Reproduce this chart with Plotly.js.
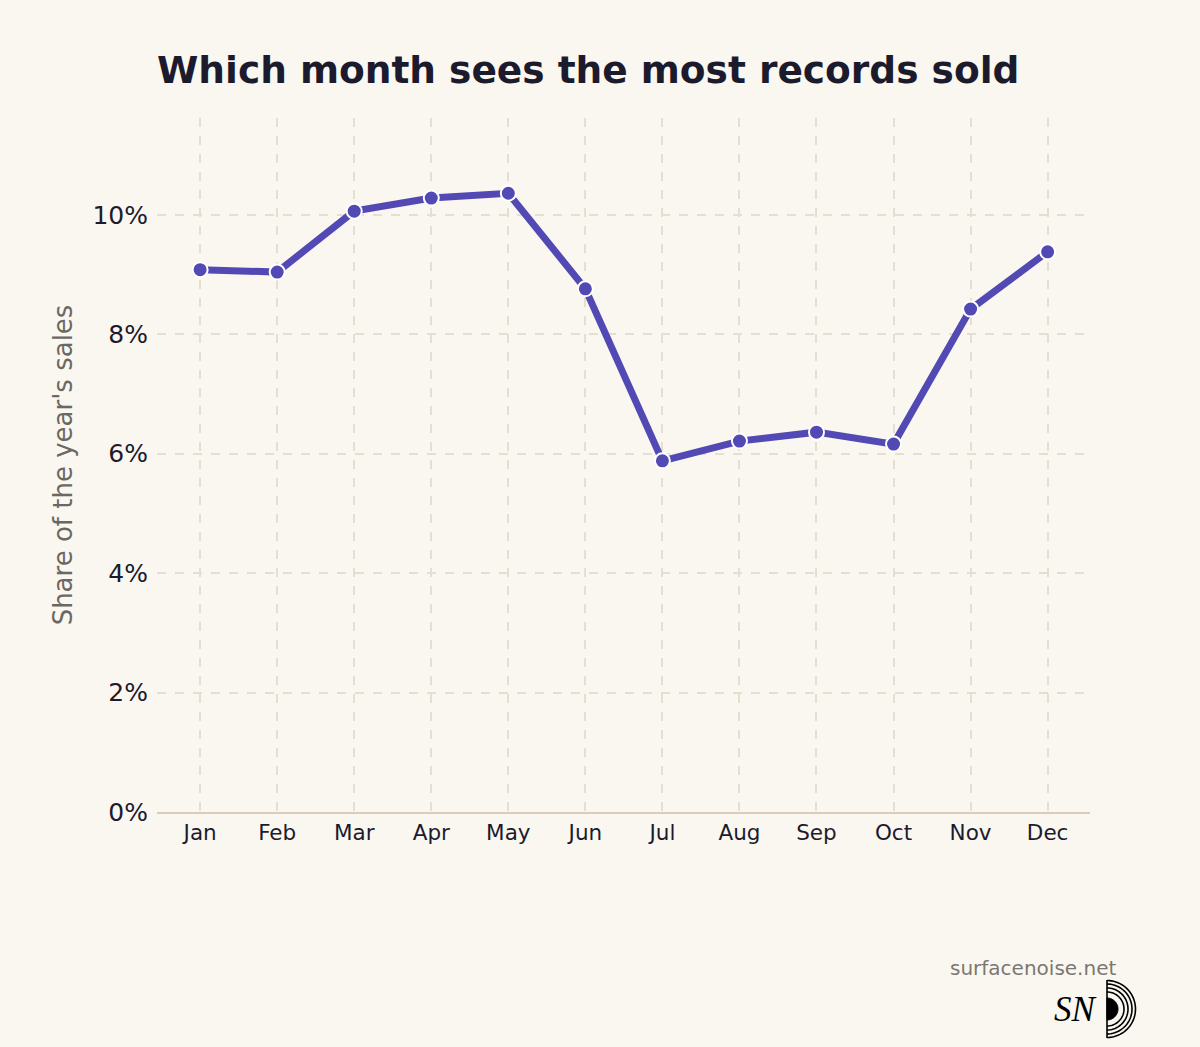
<!DOCTYPE html>
<html>
<head>
<meta charset="utf-8">
<script src="https://cdn.plot.ly/plotly-3.0.1.min.js"></script>
<style>
  html, body { margin: 0; padding: 0; background: #FAF7F0; }
  #chart { width: 1200px; height: 1047px; }
</style>
</head>
<body>
<div id="chart"></div>
<script>
const months = ["Jan", "Feb", "Mar", "Apr", "May", "Jun", "Jul", "Aug", "Sep", "Oct", "Nov", "Dec"];
const shareOfSales = [9.08, 9.04, 10.06, 10.28, 10.36, 8.76, 5.88, 6.21, 6.36, 6.16, 8.42, 9.38];
const yTickValues = [0, 2, 4, 6, 8, 10];
const yTickLabels = ["0%", "2%", "4%", "6%", "8%", "10%"];

const W = 1200, H = 1047;
const M = { l: 157, r: 110, t: 118, b: 235 };
const PW = W - M.l - M.r, PH = H - M.t - M.b;
const px = x => (x - M.l) / PW;
const py = y => (H - M.b - y) / PH;

// logo: half disc and concentric half arcs (decoration)
function halfArcPath(cx, cy, r, filled) {
  let d = "";
  const n = 40;
  for (let i = 0; i <= n; i++) {
    const a = -Math.PI / 2 + Math.PI * i / n;
    const x = px(cx + r * Math.cos(a));
    const y = py(cy + r * Math.sin(a));
    d += (i === 0 ? "M" : "L") + x.toFixed(5) + "," + y.toFixed(5);
  }
  if (filled) d += "Z";
  return d;
}
const logoShapes = [
  { type: "path", xref: "paper", yref: "paper", path: halfArcPath(1107, 1009, 11, true), fillcolor: "#000", line: { color: "#000", width: 1 } },
  { type: "path", xref: "paper", yref: "paper", path: halfArcPath(1107, 1009, 17, false), line: { color: "#000", width: 1.6 } },
  { type: "path", xref: "paper", yref: "paper", path: halfArcPath(1107, 1009, 21, false), line: { color: "#000", width: 1.6 } },
  { type: "path", xref: "paper", yref: "paper", path: halfArcPath(1107, 1009, 25, false), line: { color: "#000", width: 1.6 } },
  { type: "path", xref: "paper", yref: "paper", path: halfArcPath(1107, 1009, 28.5, false), line: { color: "#000", width: 1.6 } },
  { type: "line", xref: "paper", yref: "paper", x0: px(1107), x1: px(1107), y0: py(980), y1: py(1038), line: { color: "#000", width: 1.6 } }
];

const trace = {
  type: "scatter",
  mode: "lines+markers",
  x: months,
  y: shareOfSales,
  line: { color: "#5249B5", width: 7 },
  marker: { color: "#5249B5", size: 15, line: { color: "#FFFFFF", width: 2 } },
  hoverinfo: "x+y"
};

const layout = {
  width: W, height: H,
  paper_bgcolor: "#FAF7F0",
  plot_bgcolor: "#FAF7F0",
  margin: M,
  font: { family: "DejaVu Sans", color: "#1C1B2E" },
  showlegend: false,
  title: {
    text: "<b>Which month sees the most records sold</b>",
    font: { family: "DejaVu Sans", size: 37.5, color: "#1C1B2E" },
    x: px(157), xanchor: "left", xref: "paper",
    y: 1 - 70 / H, yanchor: "middle"
  },
  xaxis: {
    type: "category",
    range: [-0.56, 11.55],
    showgrid: true,
    gridcolor: "#E5DED1",
    griddash: "dash",
    gridwidth: 1.5,
    showline: true,
    linecolor: "#D8CDBD",
    linewidth: 1.5,
    zeroline: false,
    ticks: "",
    ticklabelstandoff: 0,
    tickfont: { family: "DejaVu Sans", size: 21.5, color: "#1C1B2E" }
  },
  yaxis: {
    range: [0, 11.62],
    tickvals: yTickValues,
    ticktext: yTickLabels,
    showgrid: true,
    gridcolor: "#E5DED1",
    griddash: "dash",
    gridwidth: 1.5,
    zeroline: false,
    showline: false,
    ticks: "",
    ticklabelstandoff: 8,
    tickfont: { family: "DejaVu Sans", size: 25, color: "#1C1B2E" },
    title: {
      text: "Share of the year's sales",
      font: { family: "DejaVu Sans", size: 26, color: "#6B6864" },
      standoff: 12
    }
  },
  shapes: logoShapes,
  annotations: [
    {
      text: "surfacenoise.net", xref: "paper", yref: "paper",
      x: px(1118), y: py(968), xanchor: "right", yanchor: "middle",
      showarrow: false, font: { family: "DejaVu Sans", size: 20, color: "#7A7772" }
    },
    {
      text: "<i>SN</i>", xref: "paper", yref: "paper",
      x: px(1099), y: py(1009), xanchor: "right", yanchor: "middle",
      showarrow: false, font: { family: "Liberation Serif", size: 35, color: "#000000" }
    }
  ]
};

Plotly.newPlot("chart", [trace], layout, { displayModeBar: false, responsive: false });
</script>
</body>
</html>
